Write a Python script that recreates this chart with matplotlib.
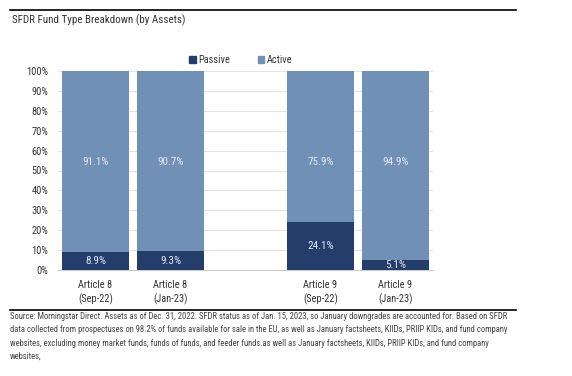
import matplotlib
matplotlib.use("Agg")
import matplotlib.pyplot as plt
from matplotlib import font_manager as fm
from matplotlib.lines import Line2D
from matplotlib.patches import Patch

categories = ["Article 8\n(Sep-22)", "Article 8\n(Jan-23)", "", "Article 9\n(Sep-22)", "Article 9\n(Jan-23)"]
passive = [8.9, 9.3, None, 24.1, 5.1]
active = [91.1, 90.7, None, 75.9, 94.9]
yticks = [0, 10, 20, 30, 40, 50, 60, 70, 80, 90, 100]

available = {f.name for f in fm.fontManager.ttflist}
candidates = ["Roboto Condensed", "Archivo Narrow", "PT Sans Narrow", "Liberation Sans Narrow",
              "Fira Sans Condensed", "IBM Plex Sans Condensed", "Barlow Condensed",
              "Encode Sans Condensed", "Open Sans Condensed"]
chosen = next((c for c in candidates if c in available), None)
if chosen:
    plt.rcParams['font.family'] = [chosen, 'DejaVu Sans']
    k = 1.0
else:
    plt.rcParams['font.family'] = ['DejaVu Sans']
    k = 0.82

c_passive = "#253d6b"
c_active = "#7190b5"
label_color = "#e6e6f2"
text_color = "#333333"

fig = plt.figure(figsize=(5.72, 3.76), dpi=100)
ax = fig.add_axes([58/572, 1-270/376, (433-58)/572, (270-71)/376])

x = list(range(len(categories)))
for i in x:
    if passive[i] is None:
        continue
    ax.bar(i, passive[i], width=0.9, color=c_passive, zorder=3)
    ax.bar(i, active[i], bottom=passive[i], width=0.9, color=c_active, zorder=3)
    ax.text(i, passive[i] / 2, f"{passive[i]:.1f}%", ha="center", va="center",
            color=label_color, fontsize=8*k, zorder=4)
    ax.text(i, 54.5, f"{active[i]:.1f}%", ha="center", va="center",
            color=label_color, fontsize=8*k, zorder=4)

ax.set_xlim(-0.5, 4.5)
ax.set_ylim(0, 100)
ax.set_yticks(yticks)
ax.set_yticklabels([f"{v}%" for v in yticks], fontsize=7.5*k, color=text_color)
ax.set_xticks(x)
ax.set_xticklabels(categories, fontsize=7.5*k, color=text_color, linespacing=1.45)
ax.tick_params(axis="x", length=0, pad=7)
ax.tick_params(axis="y", length=0, pad=7)
ax.grid(axis="y", color="#e4e4e4", linewidth=0.8, zorder=0)
for s in ["top", "right", "left"]:
    ax.spines[s].set_visible(False)
ax.spines["bottom"].set_color("#cccccc")
ax.spines["bottom"].set_linewidth(0.8)

handles = [Patch(color=c_passive, label="Passive"), Patch(color=c_active, label="Active")]
fig.legend(handles=handles, loc="center", bbox_to_anchor=(241/572, 1-60/376), ncol=2,
           frameon=False, fontsize=7.5*k, handlelength=0.6, handleheight=0.6,
           handletextpad=0.3, columnspacing=2.6, labelcolor=text_color)

fig.add_artist(Line2D([10/572, 516/572], [1-10/376, 1-10/376], color="black", linewidth=1.2))
fig.add_artist(Line2D([10/572, 516/572], [1-310/376, 1-310/376], color="black", linewidth=1.2))

fig.text(12/572, 1-20/376, "SFDR Fund Type Breakdown (by Assets)", fontsize=7.9*k,
         color=text_color, va="center", ha="left")

source = ("Source: Morningstar Direct. Assets as of Dec. 31, 2022. SFDR status as of Jan. 15, 2023, so January downgrades are accounted for. Based on SFDR\n"
          "data collected from prospectuses on 98.2% of funds available for sale in the EU, as well as January factsheets, KIIDs, PRIIP KIDs, and fund company\n"
          "websites, excluding money market funds, funds of funds, and feeder funds.as well as January factsheets, KIIDs, PRIIP KIDs, and fund company\n"
          "websites,")
fig.text(10/572, 1-312/376, source, fontsize=6.2*k if chosen else 5.0, color="#444444",
         va="top", ha="left", linespacing=1.62 if chosen else 1.9)

fig.savefig("out.png", dpi=100)
